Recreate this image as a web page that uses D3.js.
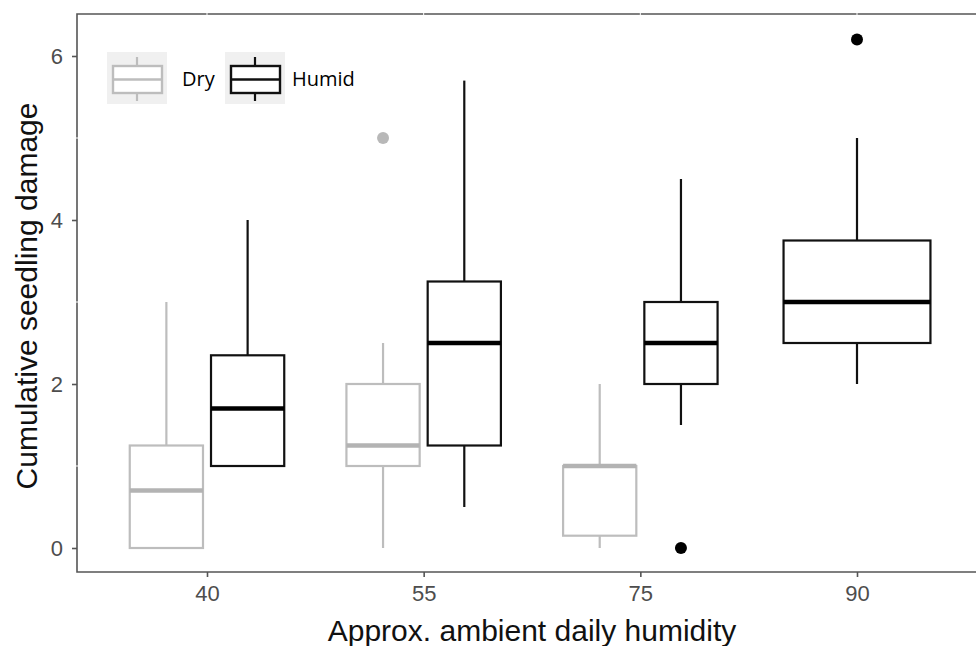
<!DOCTYPE html>
<html><head><meta charset="utf-8">
<script src="https://cdn.jsdelivr.net/npm/d3@7"></script>
<style>html,body{margin:0;padding:0;background:#fff;}svg{display:block;}</style>
</head><body>
<script>
// ---- data ----
const categories = ["40", "55", "75", "90"];
const seriesNames = ["Dry", "Humid"];
// [lower whisker, Q1, median, Q3, upper whisker]; null = no box
const dryStats = [[0, 0, 0.7, 1.25, 3], [0, 1, 1.25, 2, 2.5], [0, 0.15, 1, 1, 2], null];
const humidStats = [[1, 1, 1.7, 2.35, 4], [0.5, 1.25, 2.5, 3.25, 5.7], [1.5, 2, 2.5, 3, 4.5], [2, 2.5, 3, 3.75, 5]];
const dryOutliers = [[], [5], [], []];
const humidOutliers = [[], [], [0], [6.2]];
const yTicks = [0, 2, 4, 6];
const xTitle = "Approx. ambient daily humidity";
const yTitle = "Cumulative seedling damage";

const W = 976, H = 646;
const panel = {left: 77, top: 14, right: 987, bottom: 572};
const colors = {Dry: "#bdbdbd", Humid: "#111111"};
const outColors = {Dry: "#b8b8b8", Humid: "#000000"};

const svg = d3.select("body").append("svg").attr("width", W).attr("height", H);

const x = d3.scalePoint().domain(categories).range([panel.left, panel.right]).padding(0.6);
const y = d3.scaleLinear().domain([0, 6]).range([548, 56]);
const step = x.step();

// panel border (top/left/bottom)
svg.append("path")
  .attr("d", `M${panel.right},${panel.top}H${panel.left}V${panel.bottom}H${panel.right}`)
  .attr("fill", "none").attr("stroke", "#555").attr("stroke-width", 1.6);

// white grid lines (visible only where they cross the border)
const gridG = svg.append("g");
gridG.selectAll("line.vx").data(categories).join("line")
  .attr("x1", d => x(d)).attr("x2", d => x(d)).attr("y1", panel.top - 1).attr("y2", panel.bottom - 2)
  .attr("stroke", "#fff").attr("stroke-width", 1);
gridG.selectAll("line.hy").data([1, 3, 5]).join("line")
  .attr("x1", panel.left - 1).attr("x2", panel.right).attr("y1", d => y(d)).attr("y2", d => y(d))
  .attr("stroke", "#fff").attr("stroke-width", 1);

// axes
const yAxis = d3.axisLeft(y).tickValues(yTicks).tickSize(5).tickPadding(9).tickFormat(d3.format("d"));
const yg = svg.append("g").attr("transform", `translate(${panel.left},0)`).call(yAxis);
yg.select(".domain").remove();
yg.selectAll(".tick line").attr("stroke", "#555").attr("stroke-width", 1.6);
yg.selectAll(".tick text").attr("fill", "#4d4d4d").attr("font-size", 22)
  .attr("font-family", "'Liberation Sans', Arial, sans-serif");

const xAxis = d3.axisBottom(x).tickSize(5).tickPadding(8);
const xg = svg.append("g").attr("transform", `translate(0,${panel.bottom})`).call(xAxis);
xg.select(".domain").remove();
xg.selectAll(".tick line").attr("stroke", "#555").attr("stroke-width", 1.6);
xg.selectAll(".tick text").attr("fill", "#4d4d4d").attr("font-size", 22)
  .attr("font-family", "'Liberation Sans', Arial, sans-serif");

// titles
svg.append("text").attr("x", 532).attr("y", 641).attr("text-anchor", "middle")
  .attr("font-family", "'Liberation Sans', Arial, sans-serif").attr("font-size", 30).attr("fill", "#111")
  .text(xTitle);
svg.append("text").attr("transform", `translate(37,296) rotate(-90)`).attr("text-anchor", "middle")
  .attr("font-family", "'Liberation Sans', Arial, sans-serif").attr("font-size", 30).attr("fill", "#111")
  .text(yTitle);

// boxes
const boxes = [];
categories.forEach((c, i) => {
  const present = [["Dry", dryStats[i], dryOutliers[i]], ["Humid", humidStats[i], humidOutliers[i]]].filter(d => d[1]);
  const n = present.length;
  const bw = n === 2 ? step * 0.338 : step * 0.678;
  present.forEach((p, j) => {
    const off = n === 2 ? (j === 0 ? -1 : 1) * step * 0.1875 : 0;
    boxes.push({cat: c, series: p[0], s: p[1], out: p[2], cx: x(c) + off, bw});
  });
});

const bg = svg.append("g");
boxes.forEach(b => {
  const g = bg.append("g");
  const col = colors[b.series];
  const lw = 2.2;
  const [lo, q1, med, q3, hi] = b.s;
  g.append("line").attr("x1", b.cx).attr("x2", b.cx).attr("y1", y(hi)).attr("y2", y(q3))
    .attr("stroke", col).attr("stroke-width", lw);
  g.append("line").attr("x1", b.cx).attr("x2", b.cx).attr("y1", y(q1)).attr("y2", y(lo))
    .attr("stroke", col).attr("stroke-width", lw);
  g.append("rect").attr("x", b.cx - b.bw / 2).attr("y", y(q3)).attr("width", b.bw).attr("height", y(q1) - y(q3))
    .attr("fill", "#fff").attr("stroke", col).attr("stroke-width", lw);
  g.append("line").attr("x1", b.cx - b.bw / 2).attr("x2", b.cx + b.bw / 2).attr("y1", y(med)).attr("y2", y(med))
    .attr("stroke", b.series === "Dry" ? "#b3b3b3" : "#000").attr("stroke-width", 4.5);
  g.selectAll("circle").data(b.out).join("circle")
    .attr("cx", b.cx).attr("cy", d => y(d)).attr("r", 6).attr("fill", outColors[b.series]);
});

// legend
const legend = svg.append("g");
const legItems = [{name: seriesNames[0], kx: 107, tx: 182}, {name: seriesNames[1], kx: 225, tx: 292}];
legItems.forEach(it => {
  const g = legend.append("g").attr("transform", `translate(${it.kx},52)`);
  const col = colors[it.name];
  g.append("rect").attr("width", 60).attr("height", 52).attr("fill", "#f0f0f0");
  g.append("line").attr("x1", 30).attr("x2", 30).attr("y1", 5).attr("y2", 49).attr("stroke", col).attr("stroke-width", 2.2);
  g.append("rect").attr("x", 6).attr("y", 14).attr("width", 49).attr("height", 27)
    .attr("fill", "#fff").attr("stroke", col).attr("stroke-width", 2.4);
  g.append("line").attr("x1", 6).attr("x2", 55).attr("y1", 27.5).attr("y2", 27.5).attr("stroke", col).attr("stroke-width", 2.4);
  legend.append("text").attr("x", it.tx).attr("y", 86)
    .attr("font-family", "'Open Sans', 'Noto Sans', sans-serif").attr("font-size", 20).attr("fill", "#000")
    .text(it.name);
});
</script>
</body></html>
